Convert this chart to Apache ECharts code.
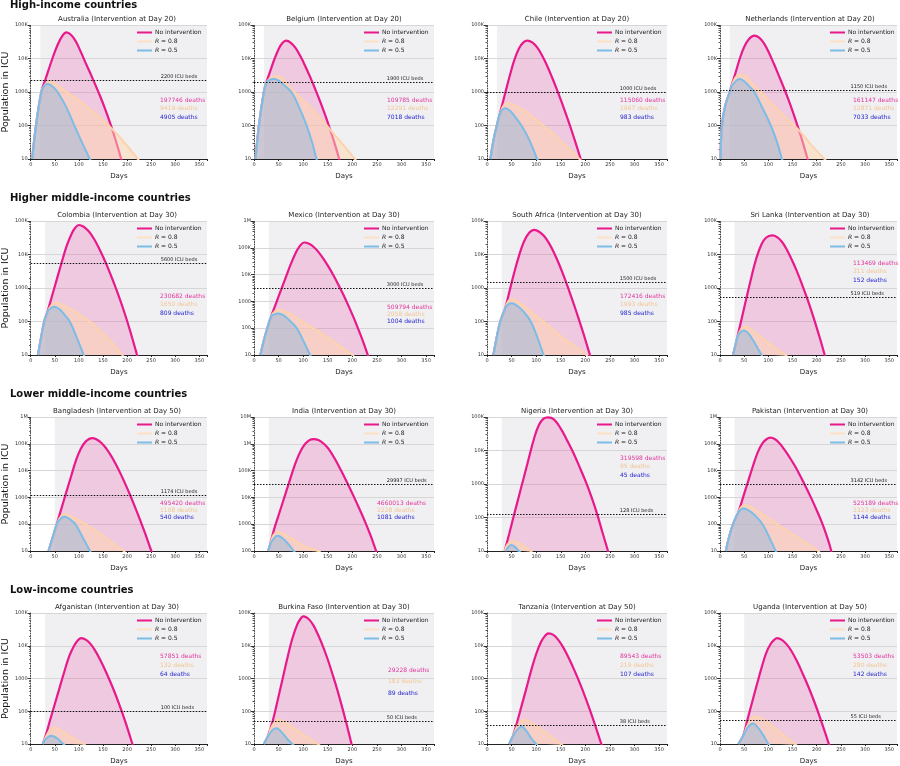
<!DOCTYPE html>
<html><head><meta charset="utf-8">
<script src="https://cdn.jsdelivr.net/npm/echarts@6/dist/echarts.min.js"></script>
<style>html,body{margin:0;padding:0;background:#fff}#c{width:900px;height:766px}</style>
</head><body><div id="c"></div><script>
// ---------------- DATA ----------------
const groupTitles = ['High-income countries','Higher middle-income countries','Lower middle-income countries','Low-income countries'];
const countries = ['Australia','Belgium','Chile','Netherlands','Colombia','Mexico','South Africa','Sri Lanka','Bangladesh','India','Nigeria','Pakistan','Afganistan','Burkina Faso','Tanzania','Uganda'];
const interventionDay = [20,20,20,20,30,30,30,30,50,30,30,30,30,30,50,50];
const icuBeds = [2200,1900,1000,1150,5600,3000,1500,519,1174,29997,128,3142,100,50,38,55];
const deathsNoIntervention = [197746,109785,115060,161147,230682,509794,172416,113469,495420,4660013,319598,525189,57851,29228,89543,53503];
const deathsR08 = [9419,12291,1967,12871,1650,2058,1993,311,1108,2228,95,2323,132,183,219,280];
const deathsR05 = [4905,7018,983,7033,809,1004,985,152,540,1081,45,1144,64,89,107,142];
const yMin = [10,10,10,10,10,10,10,10,10,100,10,10,10,10,10,10];
const yMax = [1e5,1e5,1e5,1e5,1e5,1e6,1e5,1e5,1e6,1e7,1e5,1e6,1e5,1e5,1e5,1e5];
const legendNames = ['No intervention','R = 0.8','R = 0.5'];
const decadeLabels = ['10','100','1000','10K','100K','1M','10M'];

const australiaNone = [[3,10],[11,100],[22,1000],[30,2240],[45,10000],[55,24000],[65,46000],[74,60000],[84,50000],[94,31600],[104,15800],[114,7400],[124,3550],[134,1660],[144,760],[154,324],[164,129],[174,47],[184,15.5],[190,7.8]];
const australiaR08 = [[3,10],[11,100],[22,1000],[30,1700],[40,2100],[50,1800],[70,1100],[100,570],[150,145],[190,37],[222,10],[226,8]];
const australiaR05 = [[3,10],[11,100],[22,1000],[28,1500],[34,1740],[40,1660],[50,1260],[60,800],[70,450],[80,225],[90,105],[100,50],[112,21],[124,9],[128,6]];

const belgiumNone = [[3,10],[10,100],[20,1000],[25,1900],[33,4200],[42,10000],[50,19000],[57,28000],[65,34000],[75,29500],[85,20000],[95,11200],[105,5600],[115,2630],[125,1170],[135,500],[145,200],[155,74],[165,26],[175,8.1]];
const belgiumR08 = [[3,10],[10,100],[20,1000],[25,1900],[35,2700],[49,3000],[70,1500],[100,560],[130,200],[155,75],[180,28],[205,10],[209,8]];
const belgiumR05 = [[3,10],[10,100],[20,1000],[25,1900],[32,2300],[41,2450],[50,2200],[60,1660],[76,1000],[90,400],[107,100],[118,32],[127,10],[131,6]];

const chileNone = [[7,10],[13,35],[20,100],[26,220],[36,810],[46,2950],[55,8500],[65,20000],[74,30200],[82,34000],[92,30200],[102,21400],[112,12300],[122,6200],[132,2800],[142,1200],[152,490],[162,190],[172,71],[182,25],[192,8.5]];
const chileR08 = [[7,10],[13,35],[20,100],[26,220],[35,420],[43,460],[60,380],[80,250],[100,150],[130,65],[160,25],[188,10],[192,8]];
const chileR05 = [[7,10],[13,35],[20,100],[26,220],[36,325],[45,290],[55,200],[70,100],[85,40],[102,10],[106,7]];

const netherlandsNone = [[1,10],[4,100],[11,400],[20,1000],[23,1400],[32,3700],[41,10000],[50,22000],[60,38000],[71,48000],[81,41700],[91,28200],[101,15100],[111,7200],[121,3240],[131,1450],[141,620],[151,245],[161,91],[171,32],[181,10.2],[185,6.3]];
const netherlandsR08 = [[1,10],[4,100],[11,400],[20,1000],[23,1400],[35,3000],[47,3200],[70,1600],[100,580],[130,210],[162,75],[190,25],[216,10],[220,8]];
const netherlandsR05 = [[1,10],[4,100],[11,400],[20,1000],[23,1400],[30,1900],[40,2450],[50,2100],[60,1500],[71,1000],[88,330],[105,100],[118,32],[128,10],[132,6.3]];

const colombiaNone = [[15,10],[21,30],[28,100],[35,200],[45,630],[55,2000],[65,6300],[75,18600],[85,41700],[92,61700],[100,76000],[110,67600],[120,50000],[130,31600],[140,17400],[150,8700],[160,4070],[170,1780],[180,740],[190,290],[200,105],[210,35],[220,11],[225,6.3]];
const colombiaR08 = [[15,10],[21,30],[28,100],[35,200],[45,330],[54,370],[70,290],[100,170],[125,95],[150,45],[170,23],[190,10],[194,8]];
const colombiaR05 = [[15,10],[21,30],[28,100],[35,200],[42,250],[49,275],[60,230],[70,160],[81,100],[95,35],[110,10],[114,7]];

const mexicoNone = [[13,10],[20,35],[27,100],[35,280],[45,870],[55,2700],[65,8300],[75,25000],[85,66000],[93,115000],[102,158000],[112,141000],[122,105000],[132,66000],[142,37000],[152,19000],[162,9100],[172,4070],[182,1740],[192,690],[202,263],[212,93],[222,31],[232,9.3],[236,5.6]];
const mexicoR08 = [[13,10],[20,35],[27,100],[35,280],[42,420],[50,500],[70,370],[100,170],[125,90],[150,46],[175,22],[200,10],[204,8]];
const mexicoR05 = [[13,10],[20,35],[27,100],[35,280],[42,330],[49,350],[60,300],[73,190],[87,100],[100,35],[114,10],[118,7]];

const southAfricaNone = [[13,10],[20,35],[27,100],[37,250],[46,830],[55,2750],[65,9100],[75,24000],[85,43000],[96,54000],[106,47900],[116,35500],[126,21900],[136,11500],[146,5370],[156,2290],[166,910],[176,347],[186,126],[196,44],[206,14.5],[214,5.8]];
const southAfricaR08 = [[13,10],[20,35],[27,100],[37,250],[44,420],[51,460],[70,330],[100,150],[125,75],[150,36],[175,20],[202,10],[206,8]];
const southAfricaR05 = [[13,10],[20,35],[27,100],[37,250],[44,330],[50,350],[62,290],[75,190],[89,100],[102,35],[115,10],[119,7]];

const sriLankaNone = [[27,10],[32,20],[36,35],[45,126],[55,525],[65,2140],[75,7600],[85,19000],[95,31600],[108,37000],[118,33100],[128,24000],[138,14100],[148,7200],[158,3400],[168,1480],[178,600],[188,230],[198,81],[208,27],[218,8.3]];
const sriLankaR08 = [[27,10],[32,20],[36,35],[45,62],[54,70],[70,50],[90,30],[110,18],[135,10],[139,9]];
const sriLankaR05 = [[27,10],[32,20],[36,35],[42,48],[49,54],[58,45],[68,28],[78,16],[86,10],[89,8]];

const bangladeshNone = [[37,10],[45,30],[54,100],[64,400],[74,1600],[84,6300],[94,24000],[104,66000],[115,126000],[127,162000],[137,145000],[147,107000],[157,66000],[167,35500],[177,17000],[187,7400],[197,3000],[207,1150],[217,417],[227,145],[237,48],[247,15],[254,6.6]];
const bangladeshR08 = [[37,10],[45,30],[54,100],[63,200],[73,240],[85,190],[100,140],[125,75],[150,37],[170,20],[193,10],[197,8]];
const bangladeshR05 = [[37,10],[45,30],[54,100],[62,160],[69,190],[78,170],[86,130],[93,100],[108,32],[123,10],[127,7]];

const indiaNone = [[29,100],[33,180],[42,760],[52,2800],[62,10500],[72,39000],[82,145000],[92,420000],[102,890000],[112,1350000],[121,1500000],[132,1350000],[142,1000000],[152,630000],[164,282000],[176,110000],[189,37000],[203,10700],[215,3500],[227,1100],[237,380],[245,150],[250,80],[254,45]];
const indiaR08 = [[29,100],[33,180],[40,400],[50,520],[65,400],[85,240],[100,160],[115,125],[131,100],[135,90]];
const indiaR05 = [[29,100],[33,180],[41,300],[48,370],[58,300],[70,180],[81,100],[84,85]];

const nigeriaNone = [[36,10],[45,32],[55,120],[65,440],[75,1600],[85,5900],[95,21000],[105,56000],[115,89000],[124,98000],[136,85000],[150,45000],[163,20000],[176,8300],[190,2800],[204,900],[214,355],[224,126],[235,35],[246,10],[250,6]];
const nigeriaR08 = [[36,10],[42,16],[51,20],[62,18],[75,14],[89,10],[92,9]];
const nigeriaR05 = [[38,10],[44,13.5],[50,15],[56,13.5],[65,10],[68,9]];

const pakistanNone = [[12,10],[19,35],[27,100],[38,280],[48,1050],[58,3900],[68,14500],[78,48000],[88,105000],[96,148000],[104,170000],[114,148000],[124,100000],[134,57500],[145,29000],[155,14800],[165,6900],[176,2800],[188,1000],[200,330],[211,112],[220,40],[227,16],[232,7]];
const pakistanR08 = [[12,10],[19,35],[27,100],[38,280],[45,460],[52,520],[70,370],[100,170],[125,85],[150,42],[175,22],[203,10],[207,8]];
const pakistanR05 = [[12,10],[19,35],[27,100],[38,280],[49,385],[60,320],[74,200],[88,100],[102,32],[115,10],[119,7]];

const afganistanNone = [[25,10],[31,18],[40,52],[50,166],[60,525],[70,1660],[80,4800],[90,10000],[98,14800],[105,17000],[115,15100],[125,11000],[135,6600],[145,3550],[157,1500],[170,540],[183,174],[196,50],[209,12.6],[214,7]];
const afganistanR08 = [[25,10],[31,16],[40,27],[48,32],[65,25],[85,16],[110,10],[114,9]];
const afganistanR05 = [[25,10],[31,14],[42,18],[52,16],[62,12],[68,10],[71,9]];

const burkinaFasoNone = [[20,10],[28,17],[38,50],[48,214],[58,955],[68,4300],[78,16600],[88,45000],[95,68000],[100,79000],[110,68000],[120,44000],[130,22000],[140,9800],[150,3800],[160,1300],[170,420],[180,120],[188,42],[195,16],[199,9]];
const burkinaFasoR08 = [[20,10],[28,17],[38,38],[50,55],[70,40],[95,22],[130,10],[134,9]];
const burkinaFasoR05 = [[20,10],[28,17],[38,27],[46,30],[56,23],[68,14],[78,10],[81,9]];

const tanzaniaNone = [[45,10],[53,18],[60,40],[70,141],[80,500],[90,1800],[100,5600],[110,13200],[118,20000],[125,24000],[135,21400],[145,15100],[155,8900],[166,4300],[178,1740],[190,650],[202,220],[214,69],[225,22],[234,8.5],[238,5.6]];
const tanzaniaR08 = [[45,10],[53,18],[62,35],[75,55],[95,40],[120,22],[150,10],[154,9]];
const tanzaniaR05 = [[45,10],[53,18],[62,28],[70,34],[80,25],[90,15],[100,10],[103,9]];

const ugandaNone = [[38,10],[48,18],[56,50],[66,178],[76,630],[86,2140],[96,6300],[105,11500],[112,15100],[118,17000],[128,15100],[138,11000],[148,6800],[159,3400],[171,1400],[183,550],[195,195],[207,63],[217,23],[226,9],[230,5.6]];
const ugandaR08 = [[38,10],[48,18],[58,40],[72,70],[95,50],[125,22],[155,10],[159,9]];
const ugandaR05 = [[38,10],[48,18],[58,33],[68,42],[78,32],[90,18],[100,10],[103,9]];

const noInterventionData = [australiaNone,belgiumNone,chileNone,netherlandsNone,colombiaNone,mexicoNone,southAfricaNone,sriLankaNone,bangladeshNone,indiaNone,nigeriaNone,pakistanNone,afganistanNone,burkinaFasoNone,tanzaniaNone,ugandaNone];
const r08Data = [australiaR08,belgiumR08,chileR08,netherlandsR08,colombiaR08,mexicoR08,southAfricaR08,sriLankaR08,bangladeshR08,indiaR08,nigeriaR08,pakistanR08,afganistanR08,burkinaFasoR08,tanzaniaR08,ugandaR08];
const r05Data = [australiaR05,belgiumR05,chileR05,netherlandsR05,colombiaR05,mexicoR05,southAfricaR05,sriLankaR05,bangladeshR05,indiaR05,nigeriaR05,pakistanR05,afganistanR05,burkinaFasoR05,tanzaniaR05,ugandaR05];

// ---------------- LAYOUT / STYLE ----------------
const colLeft = [27,254,487,720], rowTop = [25,221,417,613], gridW = 180, gridH = 134;
const headingY = [6,199,395,591];
const textDX = [133,133,133,133,133,133,133,133,133,123,133,133,133,134,133,133];
const textDY = [75,75,75,75,75,86,75,42,86,86,41,86,43,57,43,43];
const textPitch = [8.8,8.8,8.8,8.8,8.7,7,8.7,8.7,7,7,8.7,7,9,11.5,9,9];
const bedsLabelDay = 270;
const FONT = '"DejaVu Sans", sans-serif';
const C_PINK = '#e8198b', C_PEACH = '#fdd3ad', C_BLUE = '#7bbde7';

const grids=[], xAxes=[], yAxes=[], series=[], legends=[], graphics=[];

groupTitles.forEach((t,r)=>graphics.push({type:'text', z:100, left:10, top:headingY[r]-6,
  style:{text:t, font:'bold 10px "DejaVu Sans"', fill:'#111'}}));

countries.forEach((name,i)=>{
  const r = Math.floor(i/4), c = i%4;
  const L = colLeft[c], T = rowTop[r];
  grids.push({left:L, top:T, width:gridW, height:gridH});
  xAxes.push({type:'value', gridIndex:i, min:0, max:366, interval:50, z:1,
    name:'Days', nameLocation:'middle', nameGap:14,
    nameTextStyle:{fontSize:7, fontFamily:FONT, color:'#222'},
    axisLine:{lineStyle:{color:'#222', width:1.2}},
    axisTick:{length:2, lineStyle:{color:'#222'}},
    axisLabel:{fontSize:5, margin:3, color:'#333', fontFamily:FONT, formatter:v=> (v%50===0 ? String(v) : '')},
    splitLine:{show:false}});
  yAxes.push({type:'log', logBase:10, gridIndex:i, min:yMin[i], max:yMax[i], z:1,
    name: c===0 ? 'Population in ICU' : '', nameLocation:'middle', nameGap:19, nameRotate:90,
    nameTextStyle:{fontSize:9.5, fontFamily:FONT, color:'#111'},
    axisLine:{show:true, lineStyle:{color:'#444', type:[1,1.5], width:1}},
    axisTick:{show:true, length:3, lineStyle:{color:'#333'}},
    minorTick:{show:true, splitNumber:9, length:1.5, lineStyle:{color:'#555'}},
    axisLabel:{fontSize:5, margin:3, color:'#333', fontFamily:FONT,
      formatter:v=> decadeLabels[Math.round(Math.log10(v))-1] || ''},
    splitLine:{show:true, lineStyle:{color:'#d6d6d6', width:1}}});

  // intervention background
  series.push({type:'line', xAxisIndex:i, yAxisIndex:i, data:[], z:-1, silent:true,
    markArea:{silent:true, z:-1, itemStyle:{color:'#f0f0f2'}, data:[[{xAxis:interventionDay[i]},{xAxis:366}]]}});

  series.push({name:legendNames[0], type:'line', xAxisIndex:i, yAxisIndex:i, data:noInterventionData[i],
    smooth:0.4, showSymbol:false, z:2,
    lineStyle:{color:C_PINK, width:2.2}, itemStyle:{color:C_PINK},
    areaStyle:{color:'rgba(232,25,139,0.25)', origin:'start'},
    markLine:{silent:true, symbol:['none','none'], label:{show:false},
      lineStyle:{type:[1.5,1.5], color:'#111', width:1.1}, data:[{yAxis:icuBeds[i]}]},
    markPoint:{silent:true, symbol:'rect', symbolSize:0.01,
      data:[{coord:[bedsLabelDay, icuBeds[i]], label:{show:true, formatter:icuBeds[i]+' ICU beds',
        position:[0,-1], align:'left', verticalAlign:'bottom', fontSize:5, color:'#222', fontFamily:FONT}}]}});

  series.push({name:legendNames[1], type:'line', xAxisIndex:i, yAxisIndex:i, data:r08Data[i],
    smooth:0.4, showSymbol:false, z:3,
    lineStyle:{color:C_PEACH, width:2}, itemStyle:{color:C_PEACH},
    areaStyle:{color:'rgba(255,214,172,0.72)', origin:'start'}});

  series.push({name:legendNames[2], type:'line', xAxisIndex:i, yAxisIndex:i, data:r05Data[i],
    smooth:0.4, showSymbol:false, z:4,
    lineStyle:{color:C_BLUE, width:2}, itemStyle:{color:C_BLUE},
    areaStyle:{color:'rgba(108,170,230,0.48)', origin:'start'}});

  legends.push({left:L+110, top:T+3.5, orient:'vertical', padding:0, itemGap:1,
    itemWidth:15, itemHeight:2, icon:'rect', selectedMode:false,
    textStyle:{fontSize:6, lineHeight:8, color:'#222', fontFamily:FONT, padding:[0,0,0,-2],
      rich:{i:{fontStyle:'italic', fontSize:6, fontFamily:FONT, color:'#222'}}},
    formatter:n=> n.charAt(0)==='R' ? '{i|R}' + n.slice(1) : n,
    data:[{name:legendNames[0], itemStyle:{color:C_PINK}},
          {name:legendNames[1], itemStyle:{color:'#fde0c4'}},
          {name:legendNames[2], itemStyle:{color:C_BLUE}}]});

  graphics.push({type:'text', z:100, x:L+gridW/2, y:T-6,
    style:{text:name+' (Intervention at Day '+interventionDay[i]+')', font:'7px "DejaVu Sans"', fill:'#222', align:'center', verticalAlign:'middle'}});
  const vals = [deathsNoIntervention[i], deathsR08[i], deathsR05[i]];
  const tcol = ['#e2349b','#f2c594','#2424cf'];
  vals.forEach((v,k)=>graphics.push({type:'text', z:100, x:L+textDX[i], y:T+textDY[i]+k*textPitch[i],
    style:{text:v+' deaths', font:'6px "DejaVu Sans"', fill:tcol[k], align:'left', verticalAlign:'middle'}}));
});

const chart = echarts.init(document.getElementById('c'), null, {renderer:'canvas'});
chart.setOption({animation:false, backgroundColor:'#ffffff', grid:grids, xAxis:xAxes, yAxis:yAxes,
  series:series, legend:legends, graphic:{elements:graphics}});
</script></body></html>
